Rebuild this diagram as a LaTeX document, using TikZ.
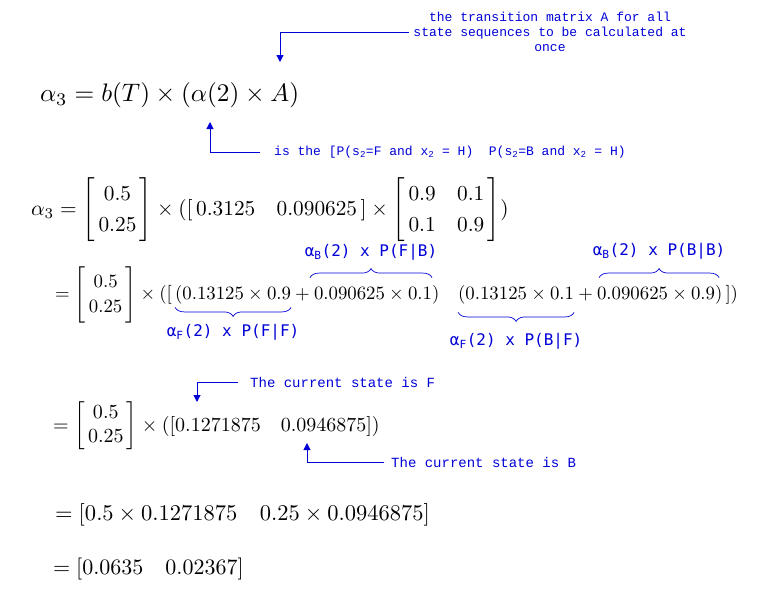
\documentclass[tikz,border=0pt]{standalone}
\usepackage{amsmath}
\usepackage{fontspec}
\newfontfamily\annfont{Liberation Mono}
\newfontfamily\bracefont{DejaVu Sans Mono}
\usetikzlibrary{decorations.pathreplacing,arrows.meta}
\definecolor{annblue}{RGB}{0,0,215}
\newcommand{\mtx}[1]{\left[\mkern3mu\begin{matrix}#1\end{matrix}\mkern3mu\right]}
\begin{document}
\begin{tikzpicture}[x=1pt,y=-1pt,
  eq/.style={inner sep=0pt,outer sep=0pt},
  ann/.style={text=annblue,font=\annfont\fontsize{13}{15}\selectfont,inner sep=0pt,align=center},
  annB/.style={text=annblue,font=\annfont\fontsize{14}{16}\selectfont,inner sep=0pt},
  blab/.style={text=annblue,font=\bracefont\fontsize{16}{18}\selectfont,inner sep=0pt},
  arr/.style={draw=annblue,line width=1pt,-{Triangle[length=7pt,width=7pt]}},
  brace/.style={draw=annblue,line width=0.7pt,decorate,decoration={brace,amplitude=9pt}},
]
\useasboundingbox (0,0) rectangle (764,598);

% line 1
\node[eq,scale=2.53,anchor=west] (L1) at (40,95) {$\alpha_3 = b(T)\times(\alpha(2)\times A)$};
\node[ann] (tA) at (550,32) {the transition matrix A for all\\state sequences to be calculated at\\once};
\coordinate (pA) at (280,62);
\draw[arr] ([xshift=-4pt]tA.west) -| (pA);
\node[ann,anchor=west] (tAl) at (274,152) {is the [P(s\textsubscript{2}=F and x\textsubscript{2} = H)\ \ P(s\textsubscript{2}=B and x\textsubscript{2} = H)};
\coordinate (pAl) at (210,122);
\draw[arr] ([xshift=-14pt]tAl.west) -| (pAl);

% line 2
\node[eq,scale=2.13,anchor=west] (L2) at (31,210) {\renewcommand{\arraystretch}{1.2}$\alpha_3 = \mtx{0.5\\0.25}\times([\,0.3125\quad 0.090625\,]\times\mtx{0.9&0.1\\0.1&0.9})$};

% line 3
\begin{scope}[every node/.style={eq,scale=1.88,anchor=base west}]
\node[anchor=west] (L3a) at (55,295) {\renewcommand{\arraystretch}{1.12}$=\mtx{0.5\\0.25}\times([\,$};
\node (L3b) at (L3a.base east) {$(0.13125\times0.9$};
\node (L3c) at (L3b.base east) {${}+{}$};
\node (L3d) at (L3c.base east) {$0.090625\times0.1$};
\node (L3e) at (L3d.base east) {$)\quad$};
\node (L3f) at (L3e.base east) {$(0.13125\times0.1$};
\node (L3g) at (L3f.base east) {${}+{}$};
\node (L3h) at (L3g.base east) {$0.090625\times0.9$};
\node (L3i) at (L3h.base east) {$)\,])$};
\end{scope}
\draw[brace] ([xshift=-4pt,yshift=10pt]L3d.north west) -- node[midway,above=17pt,blab] (bl1) {α\textsubscript{B}(2) x P(F|B)} ([yshift=10pt]L3d.north east);
\draw[brace] ([yshift=-3pt]L3b.south east) -- node[midway,below=17pt,blab] (bl2) {α\textsubscript{F}(2) x P(F|F)} ([yshift=-3pt]L3b.south west);
\draw[brace] ([yshift=-8pt]L3f.south east) -- node[midway,below=21pt,blab] (bl3) {α\textsubscript{F}(2) x P(B|F)} ([yshift=-8pt]L3f.south west);
\draw[brace] ([xshift=2pt,yshift=10pt]L3h.north west) -- node[midway,above=18pt,blab] (bl4) {α\textsubscript{B}(2) x P(B|B)} ([xshift=4pt,yshift=10pt]L3h.north east);

% line 4
\begin{scope}[every node/.style={eq,scale=2.0,anchor=base west}]
\node[anchor=west] (L4a) at (53,426) {$=\mtx{0.5\\0.25}\times([$};
\node (L4b) at (L4a.base east) {$0.1271875\quad$};
\node (L4d) at (L4b.base east) {$0.0946875$};
\node (L4e) at (L4d.base east) {$])$};
\end{scope}
\node[annB,anchor=west] (tF) at (250,382) {The current state is F};
\node[annB,anchor=west] (tB) at (391,462) {The current state is B};
\coordinate (pF) at (197,402);
\coordinate (pB) at (307,443);
\draw[arr] ([xshift=-12pt]tF.west) -| (pF);
\draw[arr] ([xshift=-7pt]tB.west) -| (pB);

% line 5
\node[eq,scale=2.25,anchor=west] (L5) at (55,515) {$=[0.5\times0.1271875\quad 0.25\times0.0946875]$};
% line 6
\node[eq,scale=2.2,anchor=west] (L6) at (53,569) {$=[0.0635\quad 0.02367]$};
\end{tikzpicture}
\end{document}
